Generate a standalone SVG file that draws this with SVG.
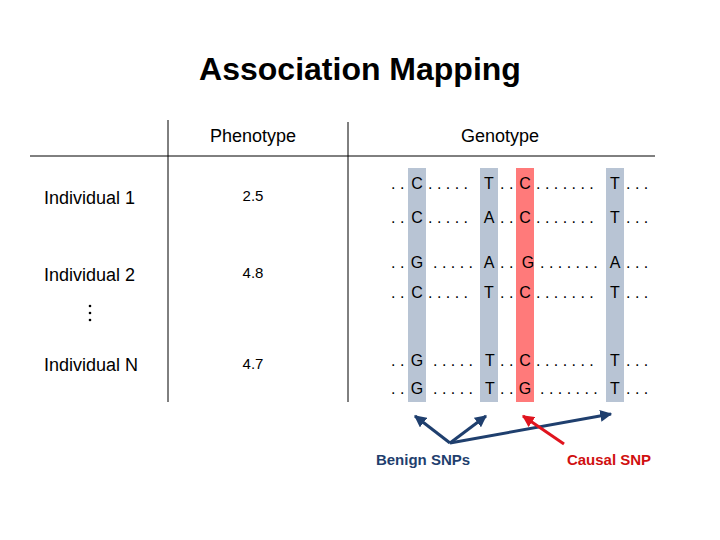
<svg xmlns="http://www.w3.org/2000/svg" width="720" height="540" viewBox="0 0 720 540">
<style>
text{font-family:"Liberation Sans",Arial,sans-serif;fill:#000}
.h{font-size:18px;text-anchor:middle}
.l{font-size:18px}
.v{font-size:15px;text-anchor:middle}
.g{font-size:16px}
.c{font-size:16px;text-anchor:middle}
.ln{stroke:#000;stroke-width:1}
</style>
<defs>
<marker id="ab" viewBox="0 0 10 10" refX="9" refY="5" markerWidth="4" markerHeight="4" orient="auto"><path d="M0,0L10,5L0,10z" fill="#1F3F6E"/></marker>
<marker id="ar" viewBox="0 0 10 10" refX="9" refY="5" markerWidth="4" markerHeight="4" orient="auto"><path d="M0,0L10,5L0,10z" fill="#E0141E"/></marker>
</defs>
<rect width="720" height="540" fill="#fff"/>
<text x="360" y="80" font-size="32" font-weight="bold" text-anchor="middle">Association Mapping</text>
<g id="table">
<line class="ln" x1="168" y1="120" x2="168" y2="402"/>
<line class="ln" x1="348" y1="122" x2="348" y2="402"/>
<line class="ln" x1="30" y1="156" x2="655" y2="156"/>
<text class="h" x="253" y="142">Phenotype</text>
<text class="h" x="500" y="142">Genotype</text>
</g>
<g id="bars">
<rect x="408" y="168" width="18" height="234" fill="#B8C4D4"/>
<rect x="480" y="168" width="18" height="234" fill="#B8C4D4"/>
<rect x="516" y="168" width="18" height="234" fill="#FF7A7A"/>
<rect x="606" y="168" width="18" height="234" fill="#B8C4D4"/>
</g>
<g id="ind1"><text class="l" x="44" y="204">Individual 1</text><text class="v" x="253" y="201">2.5</text></g>
<g id="ind2"><text class="l" x="44" y="281">Individual 2</text><text class="v" x="253" y="278">4.8</text></g>
<g id="dots"><circle cx="90" cy="306" r="1.3"/><circle cx="90" cy="313" r="1.3"/><circle cx="90" cy="320" r="1.3"/></g>
<g id="indN"><text class="l" x="44" y="371">Individual N</text><text class="v" x="253" y="369">4.7</text></g>
<g id="rows">
<g transform="translate(0,189)"><text class="g" x="391">. .</text><text class="c" x="417">C</text><text class="g" x="428">. . . . .</text><text class="c" x="489">T</text><text class="g" x="500">. .</text><text class="c" x="525">C</text><text class="g" x="536">. . . . . . .</text><text class="c" x="615">T</text><text class="g" x="626">. . .</text></g>
<g transform="translate(0,223)"><text class="g" x="391">. .</text><text class="c" x="417">C</text><text class="g" x="428">. . . . .</text><text class="c" x="489">A</text><text class="g" x="500">. .</text><text class="c" x="525">C</text><text class="g" x="536">. . . . . . .</text><text class="c" x="615">T</text><text class="g" x="626">. . .</text></g>
<g transform="translate(0,268)"><text class="g" x="391">. .</text><text class="c" x="417">G</text><text class="g" x="433">. . . . .</text><text class="c" x="489">A</text><text class="g" x="500">. .</text><text class="c" x="528">G</text><text class="g" x="540">. . . . . . .</text><text class="c" x="615">A</text><text class="g" x="626">. . .</text></g>
<g transform="translate(0,298)"><text class="g" x="391">. .</text><text class="c" x="417">C</text><text class="g" x="428">. . . . .</text><text class="c" x="489">T</text><text class="g" x="500">. .</text><text class="c" x="525">C</text><text class="g" x="536">. . . . . . .</text><text class="c" x="615">T</text><text class="g" x="626">. . .</text></g>
<g transform="translate(0,366)"><text class="g" x="391">. .</text><text class="c" x="417">G</text><text class="g" x="433">. . . . .</text><text class="c" x="490">T</text><text class="g" x="500">. .</text><text class="c" x="525">C</text><text class="g" x="536">. . . . . . .</text><text class="c" x="615">T</text><text class="g" x="626">. . .</text></g>
<g transform="translate(0,394)"><text class="g" x="391">. .</text><text class="c" x="417">G</text><text class="g" x="433">. . . . .</text><text class="c" x="490">T</text><text class="g" x="500">. .</text><text class="c" x="525">G</text><text class="g" x="540">. . . . . . .</text><text class="c" x="615">T</text><text class="g" x="626">. . .</text></g>
</g>
<g id="connectors" stroke-width="3" fill="none">
<line x1="450" y1="443" x2="415" y2="416" stroke="#1F3F6E" marker-end="url(#ab)"/>
<line x1="450" y1="443" x2="486" y2="416" stroke="#1F3F6E" marker-end="url(#ab)"/>
<line x1="450" y1="443" x2="611" y2="414" stroke="#1F3F6E" marker-end="url(#ab)"/>
<line x1="564" y1="444" x2="523" y2="416" stroke="#E0141E" marker-end="url(#ar)"/>
</g>
<g id="labels">
<text x="423" y="465" font-size="15" font-weight="bold" text-anchor="middle" style="fill:#1F3F6E">Benign SNPs</text>
<text x="609" y="465" font-size="15" font-weight="bold" text-anchor="middle" style="fill:#D01010">Causal SNP</text>
</g>
</svg>
